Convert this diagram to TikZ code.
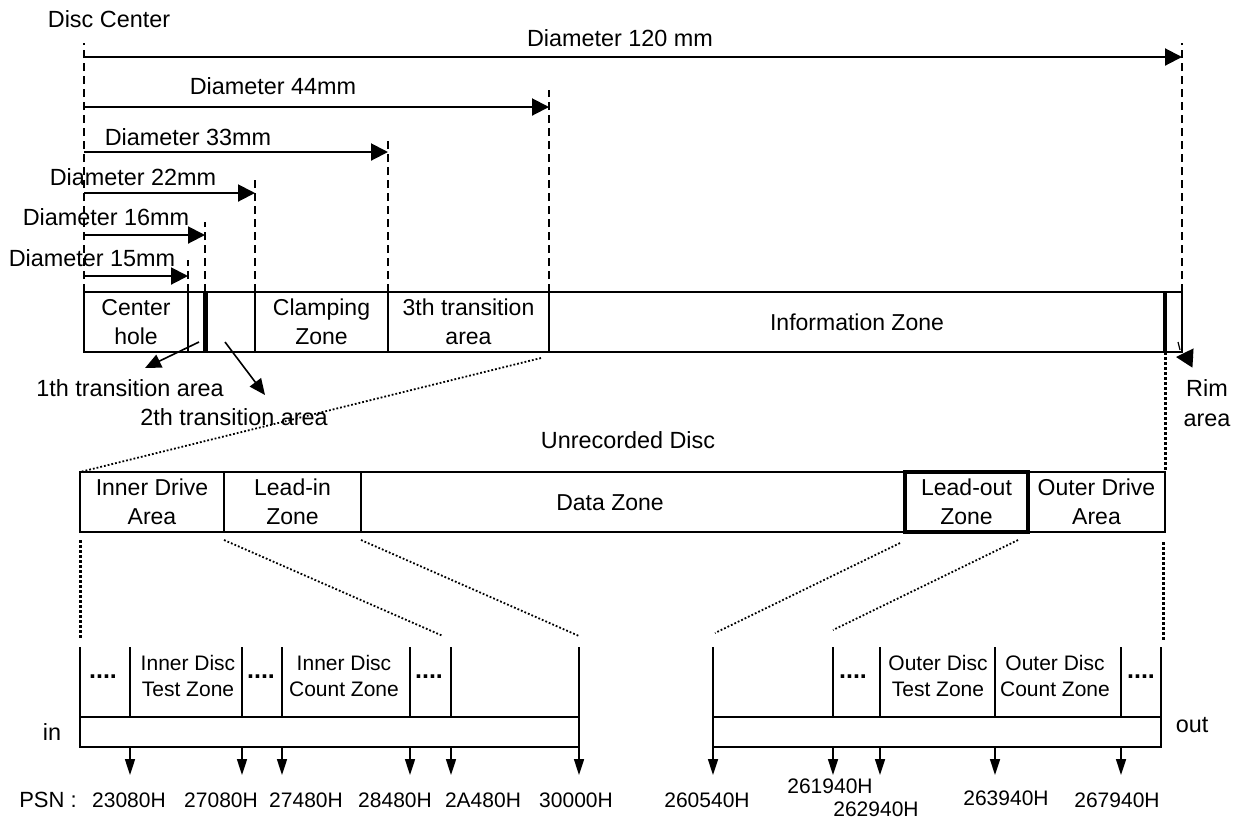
\documentclass[tikz,border=0pt]{standalone}
\usepackage{fontspec}
\setmainfont{Liberation Sans}
\usetikzlibrary{arrows.meta,positioning,calc}

\begin{document}
\begin{tikzpicture}[x=0.5pt,y=-0.5pt,
    zone/.style={draw, line width=1.3pt, inner sep=0pt, outer sep=0pt, minimum height=30pt, align=center, font=\fontsize{11.5}{14.5}\selectfont},
    tag/.style={inner sep=0pt, align=center, font=\fontsize{11.7}{15}\selectfont},
    small/.style={inner sep=0pt, align=center, font=\fontsize{10.5}{13}\selectfont},
    dots/.style={inner sep=0pt, font=\fontsize{12.5}{12.5}\selectfont\bfseries},
    dim/.style={line width=1pt, -{Triangle[length=8.5pt,width=8.5pt]}},
    guide/.style={line width=0.8pt, dash pattern=on 4pt off 2.5pt},
    zoomline/.style={line width=0.9pt, densely dotted},
    thickdots/.style={line width=1.5pt, dash pattern=on 1.5pt off 1pt},
    callout/.style={line width=0.8pt, -{Triangle[length=8pt,width=7pt]}},
    psn/.style={line width=0.8pt, -{Triangle[length=8pt,width=5pt]}}]
  \useasboundingbox (0,0) rectangle (1241,821);

  % whole disc
  \node[zone, minimum width=52pt, anchor=north west] (hole) at (84,292) {Center\\hole};
  \node[zone, minimum width=8.5pt, right=0pt of hole] (tone) {};
  \node[zone, minimum width=25pt, right=0pt of tone] (ttwo) {};
  \node[zone, minimum width=66.5pt, right=0pt of ttwo] (clamp) {Clamping\\Zone};
  \node[zone, minimum width=80.5pt, right=0pt of clamp] (tthree) {3th transition\\area};
  \node[zone, minimum width=308pt, right=0pt of tthree] (info) {Information Zone};
  \node[zone, minimum width=8.5pt, right=0pt of info] (rim) {};
  \draw[line width=2.5pt] (tone.north east) -- (tone.south east);
  \draw[line width=2pt] (info.north east) -- (info.south east);

  \draw[guide] (hole.north west) -- ++(0,-249);
  \draw[guide] (hole.north east) -- ++(0,-32);
  \draw[guide] (tone.north east) -- ++(0,-70);
  \draw[guide] (ttwo.north east) -- ++(0,-115);
  \draw[guide] (clamp.north east) -- ++(0,-152);
  \draw[guide] (tthree.north east) -- ++(0,-202);
  \draw[guide] (rim.north east) -- ++(0,-249);

  \node[tag] (center) at (109,19) {Disc Center};
  \node[tag] (d120) at (620,38) {Diameter 120 mm};
  \node[tag] (d44) at (273,86) {Diameter 44mm};
  \node[tag] (d33) at (188,137) {Diameter 33mm};
  \node[tag] (d22) at (133,177) {Diameter 22mm};
  \node[tag] (d16) at (106,217) {Diameter 16mm};
  \node[tag] (d15) at (92,258) {Diameter 15mm};
  \draw[dim] (hole.north west |- 0,57) -- (rim.north east |- 0,57);
  \draw[dim] (hole.north west |- 0,107) -- (tthree.north east |- 0,107);
  \draw[dim] (hole.north west |- 0,152) -- (clamp.north east |- 0,152);
  \draw[dim] (hole.north west |- 0,193) -- (ttwo.north east |- 0,193);
  \draw[dim] (hole.north west |- 0,235) -- (tone.north east |- 0,235);
  \draw[dim] (hole.north west |- 0,276) -- (hole.north east |- 0,276);

  \node[tag] (lone) at (130,388) {1th transition area};
  \node[tag] (ltwo) at (234,417) {2th transition area};
  \draw[callout] ($(tone.center)+(2.5,20)$) -- ($(lone.north)+(15,-11)$);
  \draw[callout] ($(ttwo.center)+(-5,20)$) -- ($(ltwo.north)+(31,-13)$);

  \node[tag] (lrim) at (1207,403) {Rim\\area};
  \coordinate (rimtip) at (1176,357);
  \draw[line width=0.6pt] ($(rim.center)+(4.5,20)$) -- ($(rim.center)+(6.5,28)$);
  \draw[line width=0.6pt, -{Triangle[length=8.5pt,width=9.5pt]}] ($(rimtip)+(17,1)$) -- (rimtip);

  % unrecorded disc
  \node[tag] (unrec) at (628,440) {Unrecorded Disc};
  \node[zone, minimum width=72pt, anchor=north west] (idrive) at (80,472) {Inner Drive\\Area};
  \node[zone, minimum width=68.5pt, right=0pt of idrive] (lin) {Lead-in\\Zone};
  \node[zone, minimum width=272pt, right=0pt of lin] (data) {};
  \node[zone, minimum width=61.5pt, right=0pt of data, line width=1.6pt] (lout) {Lead-out\\Zone};
  \node[zone, minimum width=68.5pt, right=0pt of lout] (odrive) {Outer Drive\\Area};
  \node[zone, draw=none] (datatxt) at (610,503) {Data Zone};

  \draw[zoomline] ($(tthree.south east)+(-8,6)$) -- (idrive.north west);
  \draw[thickdots] (rim.south west) -- (odrive.north east);

  % inner and outer detail
  \node[zone, minimum width=249.5pt, minimum height=15pt, anchor=north west] (inbar) at (80,717) {};
  \node[zone, minimum width=224pt, minimum height=15pt, anchor=north west] (outbar) at (713,717) {};
  \node[tag] (intag) at (52,732) {in};
  \node[tag] (outtag) at (1192,725) {out};

  \draw[thickdots] ($(idrive.south west)+(0,8)$) -- ($(inbar.north west)+(0,-77)$);
  \draw[zoomline] ($(lin.south west)+(0,8)$) -- ($(inbar.north west)+(363,-81)$);
  \draw[zoomline] ($(data.south west)+(0,8)$) -- ($(inbar.north east)+(0,-81)$);
  \draw[zoomline] ($(lout.south west)+(-5,11)$) -- ($(outbar.north west)+(2,-84)$);
  \draw[zoomline] ($(lout.south east)+(-10,8)$) -- ($(outbar.north west)+(120,-87)$);
  \draw[thickdots] ($(odrive.south east)+(-2,10)$) -- ($(outbar.north east)+(2,-75)$);

  \foreach \dx in {0,50,162,202,330,371,499}
    \draw[line width=1.2pt] (inbar.north west) ++(\dx,0) -- ++(0,-70);
  \foreach \dx in {0,120,167,282,408,448}
    \draw[line width=1.2pt] (outbar.north west) ++(\dx,0) -- ++(0,-70);

  \node[dots] (dotsa) at (103,677) {....};
  \node[small] (itest) at (188,676) {Inner Disc\\Test Zone};
  \node[dots] (dotsb) at (261,677) {....};
  \node[small] (icount) at (344,676) {Inner Disc\\Count Zone};
  \node[dots] (dotsc) at (429,677) {....};
  \node[dots] (dotsd) at (853,677) {....};
  \node[small] (otest) at (938,676) {Outer Disc\\Test Zone};
  \node[small] (ocount) at (1055,676) {Outer Disc\\Count Zone};
  \node[dots] (dotse) at (1141,677) {....};

  \foreach \dx in {50,162,202,330,371,499}
    \draw[psn] (inbar.south west) ++(\dx,0) -- ++(0,28);
  \foreach \dx in {0,120,167,282,408}
    \draw[psn] (outbar.south west) ++(\dx,0) -- ++(0,28);

  \node[inner sep=0pt, font=\fontsize{11}{13}\selectfont] (psnlbl) at (48,800) {PSN :};
  \node[small] (pa) at (129,800) {23080H};
  \node[small] (pb) at (221,800) {27080H};
  \node[small] (pc) at (306,800) {27480H};
  \node[small] (pd) at (395,800) {28480H};
  \node[small] (pe) at (483,800) {2A480H};
  \node[small] (pf) at (576,800) {30000H};
  \node[small] (pg) at (707,800) {260540H};
  \node[small] (ph) at (830,786) {261940H};
  \node[small] (pi) at (876,809) {262940H};
  \node[small] (pj) at (1006,798) {263940H};
  \node[small] (pk) at (1117,800) {267940H};
\end{tikzpicture}
\end{document}
